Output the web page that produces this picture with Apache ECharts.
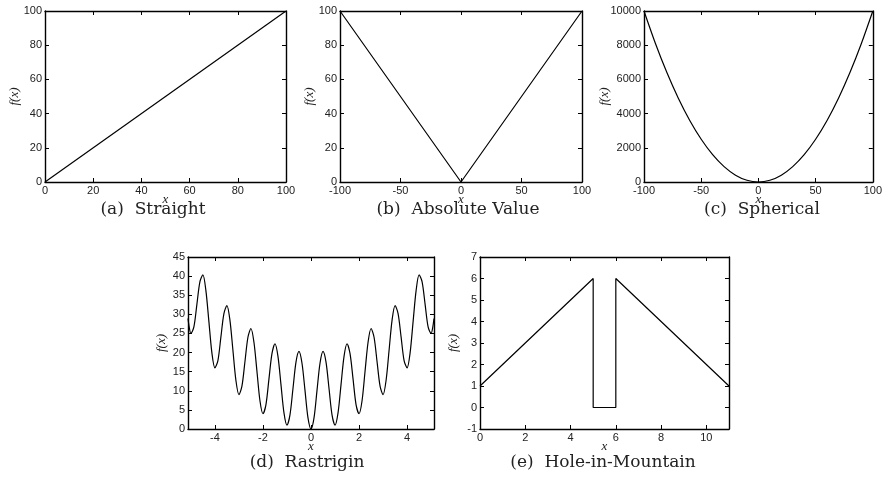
<!DOCTYPE html>
<html>
<head>
    <meta charset="utf-8">
    <script src="https://cdn.jsdelivr.net/npm/echarts@6/dist/echarts.min.js"></script>
</head>
<body style="margin:0">
    <div id="main" style="width: 885px;height:484px;"></div>
    <script type="text/javascript">
        // data
        var straightData = [[0, 0], [100, 100]];
        var absData = [[-100, 100], [0, 0], [100, 100]];
        var sphereX = [-100, -90, -80, -70, -60, -50, -40, -30, -20, -10, 0, 10, 20, 30, 40, 50, 60, 70, 80, 90, 100];
        var sphereY = [10000, 8100, 6400, 4900, 3600, 2500, 1600, 900, 400, 100, 0, 100, 400, 900, 1600, 2500, 3600, 4900, 6400, 8100, 10000];
        var rastX = [-5.12, -5.06, -5, -4.875, -4.75, -4.625, -4.5, -4.375, -4.25, -4.125, -4, -3.875, -3.75, -3.625, -3.5, -3.375, -3.25, -3.125,
            -3, -2.875, -2.75, -2.625, -2.5, -2.375, -2.25, -2.125, -2, -1.875, -1.75, -1.625, -1.5, -1.375, -1.25, -1.125,
            -1, -0.875, -0.75, -0.625, -0.5, -0.375, -0.25, -0.125, 0, 0.125, 0.25, 0.375, 0.5, 0.625, 0.75, 0.875,
            1, 1.125, 1.25, 1.375, 1.5, 1.625, 1.75, 1.875, 2, 2.125, 2.25, 2.375, 2.5, 2.625, 2.75, 2.875,
            3, 3.125, 3.25, 3.375, 3.5, 3.625, 3.75, 3.875, 4, 4.125, 4.25, 4.375, 4.5, 4.625, 4.75, 4.875, 5, 5.06, 5.12];
        var rastY = [28.9, 26.3, 25, 26.7, 32.6, 38.5, 40.3, 36.2, 28.1, 19.9, 16, 17.9, 24.1, 30.2, 32.3, 28.5, 20.6, 12.7,
            9, 11.2, 17.6, 24.0, 26.3, 22.7, 15.1, 7.4, 4, 6.4, 13.1, 19.7, 22.3, 19.0, 11.6, 4.2,
            1, 3.7, 10.6, 17.5, 20.3, 17.2, 10.1, 2.9, 0, 2.9, 10.1, 17.2, 20.3, 17.5, 10.6, 3.7,
            1, 4.2, 11.6, 19.0, 22.3, 19.7, 13.1, 6.4, 4, 7.4, 15.1, 22.7, 26.3, 24.0, 17.6, 11.2,
            9, 12.7, 20.6, 28.5, 32.3, 30.2, 24.1, 17.9, 16, 19.9, 28.1, 36.2, 40.3, 38.5, 32.6, 26.7, 25, 26.3, 28.9];
        var holeData = [[0, 1], [5, 6], [5, 0], [6, 0], [6, 6], [11, 1]];
        var captions = ['(a)  Straight', '(b)  Absolute Value', '(c)  Spherical', '(d)  Rastrigin', '(e)  Hole-in-Mountain'];

        function zip(xs, ys) {
            return xs.map(function (x, i) { return [x, ys[i]]; });
        }

        var panels = [
            { grid: [45, 11, 241, 171], x: [0, 100, 20], y: [0, 100, 20], yGap: 24, data: straightData, cap: [153, 210] },
            { grid: [340, 11, 242, 171], x: [-100, 100, 50], y: [0, 100, 20], yGap: 24, data: absData, cap: [458, 210] },
            { grid: [644, 11, 233, 171], x: [-100, 100, 50], y: [0, 10000, 2000], yGap: 33, data: zip(sphereX, sphereY), smooth: true, cap: [762, 210] },
            { grid: [188, 257, 246, 172], x: [-5.12, 5.12], xTicks: [-4, -2, 0, 2, 4], y: [0, 45, 5], yGap: 20, data: zip(rastX, rastY), smooth: true, cap: [307, 463] },
            { grid: [480, 257, 249, 172], x: [0, 11], xTicks: [0, 2, 4, 6, 8, 10], y: [-1, 7, 1], yGap: 20, data: holeData, cap: [603, 463] }
        ];

        var labelFont = { fontFamily: 'Liberation Sans', fontSize: 11, color: '#222' };
        var nameFont = { fontFamily: 'Liberation Serif', fontStyle: 'italic', fontSize: 13, color: '#222' };
        var grids = [], xAxes = [], yAxes = [], series = [], graphics = [];

        panels.forEach(function (p, i) {
            grids.push({ left: p.grid[0], top: p.grid[1], width: p.grid[2], height: p.grid[3] });
            var line = { show: true, onZero: false, lineStyle: { color: '#000', width: 1.4 } };
            var tick = { show: true, inside: true, length: 4, lineStyle: { color: '#000' } };
            var xb = {
                type: 'value', gridIndex: i, min: p.x[0], max: p.x[1], position: 'bottom',
                axisLine: line, axisTick: tick, splitLine: { show: false },
                axisLabel: Object.assign({ margin: 3 }, labelFont),
                name: 'x', nameLocation: 'middle', nameGap: 11, nameMoveOverlap: false, nameTextStyle: nameFont
            };
            if (p.xTicks) {
                xb.axisLabel.customValues = p.xTicks;
                xb.axisTick = Object.assign({ customValues: p.xTicks }, tick);
            } else {
                xb.interval = p.x[2];
            }
            var xt = JSON.parse(JSON.stringify(xb));
            xt.position = 'top';
            xt.axisLabel = { show: false };
            xt.name = '';
            xAxes.push(xb, xt);

            var yl = {
                type: 'value', gridIndex: i, min: p.y[0], max: p.y[1], interval: p.y[2], position: 'left',
                axisLine: line, axisTick: tick, splitLine: { show: false },
                axisLabel: Object.assign({ margin: 3, formatter: function (v) { return String(v); } }, labelFont),
                name: 'f(x)', nameLocation: 'middle', nameGap: p.yGap, nameMoveOverlap: false, nameTextStyle: nameFont
            };
            var yr = {
                type: 'value', gridIndex: i, min: p.y[0], max: p.y[1], interval: p.y[2], position: 'right',
                axisLine: line, axisTick: tick, splitLine: { show: false }, axisLabel: { show: false }
            };
            yAxes.push(yl, yr);

            series.push({
                type: 'line', xAxisIndex: 2 * i, yAxisIndex: 2 * i,
                data: p.data, showSymbol: false, smooth: p.smooth ? 0.3 : false,
                lineStyle: { color: '#000', width: 1.2 }
            });

            graphics.push({
                type: 'text', x: p.cap[0], y: p.cap[1],
                style: {
                    text: captions[i], fontFamily: 'DejaVu Serif', fontSize: 17,
                    fill: '#222', align: 'center', verticalAlign: 'middle'
                }
            });
        });

        var chart = echarts.init(document.getElementById('main'));
        chart.setOption({
            backgroundColor: '#fff',
            animation: false,
            grid: grids,
            xAxis: xAxes,
            yAxis: yAxes,
            series: series,
            graphic: graphics
        });
    </script>
</body>
</html>
